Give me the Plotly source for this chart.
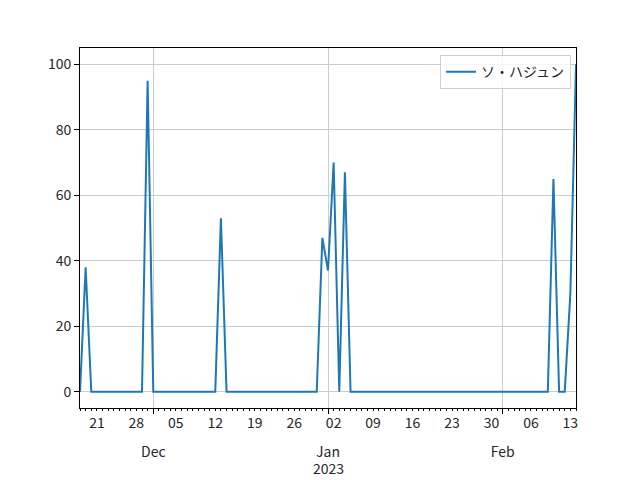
import pandas as pd
import plotly.graph_objects as go

start_date = "2022-11-18"
end_date = "2023-02-14"
series_name = "ソ・ハジュン"
values = [
    0, 38, 0, 0, 0, 0, 0, 0, 0, 0, 0, 0, 95,          # Nov 18 - Nov 30
    0, 0, 0, 0, 0, 0, 0, 0, 0, 0, 0, 0, 53, 0, 0, 0,   # Dec 1 - Dec 16
    0, 0, 0, 0, 0, 0, 0, 0, 0, 0, 0, 0, 0, 0, 47,      # Dec 17 - Dec 31
    37, 70, 0, 67, 0, 0, 0, 0, 0, 0, 0, 0, 0, 0, 0, 0,  # Jan 1 - Jan 16
    0, 0, 0, 0, 0, 0, 0, 0, 0, 0, 0, 0, 0, 0, 0,       # Jan 17 - Jan 31
    0, 0, 0, 0, 0, 0, 0, 0, 0, 65, 0, 0, 30, 100,      # Feb 1 - Feb 14
]
minor_tick_dates = ["2022-11-21", "2022-11-28", "2022-12-05", "2022-12-12", "2022-12-19",
                    "2022-12-26", "2023-01-02", "2023-01-09", "2023-01-16", "2023-01-23",
                    "2023-01-30", "2023-02-06", "2023-02-13"]
minor_tick_labels = ["21", "28", "05", "12", "19", "26", "02", "09", "16", "23", "30", "06", "13"]
major_tick_dates = ["2022-12-01", "2023-01-01", "2023-02-01"]
major_tick_labels = ["Dec", "Jan", "Feb"]
year_label = "2023"
year_label_date = "2023-01-01"
y_ticks = [0, 20, 40, 60, 80, 100]

dates = pd.date_range(start_date, end_date, freq="D")
font = "Noto Sans CJK JP, DejaVu Sans, sans-serif"

fig = go.Figure()
fig.add_trace(go.Scatter(x=dates, y=values, mode="lines", name=series_name,
                         line=dict(color="#1f77b4", width=2)))
fig.add_trace(go.Scatter(x=[dates[0], dates[-1]], y=[None, None], xaxis="x2",
                         showlegend=False, hoverinfo="skip", mode="lines"))

xr = [dates[0], dates[-1]]
fig.update_layout(
    width=632, height=472,
    margin=dict(l=72, r=64, t=40, b=72),
    paper_bgcolor="white", plot_bgcolor="white",
    font=dict(family=font, size=14, color="#262626"),
    showlegend=True,
    legend=dict(x=0.99, y=0.98, xanchor="right", yanchor="top",
                bgcolor="rgba(255,255,255,0.8)", bordercolor="#d0d0d0", borderwidth=1,
                font=dict(size=14, color="#262626")),
    xaxis=dict(type="date", range=xr, tickvals=minor_tick_dates, ticktext=minor_tick_labels,
               showgrid=False, zeroline=False, ticks="outside", ticklen=2, tickcolor="black",
               showline=True, linecolor="black", linewidth=1, mirror=True, automargin=False,
               minor=dict(ticks="outside", ticklen=2, tickcolor="black", dtick=86400000,
                          tick0="2022-11-18", showgrid=False),
               tickangle=0),
    xaxis2=dict(type="date", range=xr, overlaying="x", side="bottom", matches="x",
                tickvals=major_tick_dates, ticktext=major_tick_labels,
                showgrid=True, gridcolor="#cccccc", gridwidth=1, automargin=False,
                ticks="outside", ticklen=5, tickcolor="black", ticklabelstandoff=26,
                showline=False, zeroline=False, tickangle=0),
    yaxis=dict(range=[-5, 105], tickvals=y_ticks, showgrid=True, gridcolor="#cccccc",
               gridwidth=1, zeroline=False, ticks="outside", ticklen=5, tickcolor="black",
               showline=True, linecolor="black", linewidth=1, mirror=True, automargin=False),
    annotations=[dict(text=year_label, x=year_label_date, xref="x", yref="paper",
                      y=-0.168, yanchor="middle", xanchor="center", showarrow=False,
                      font=dict(size=14, color="#262626"))],
)
fig.write_html("out.html")
